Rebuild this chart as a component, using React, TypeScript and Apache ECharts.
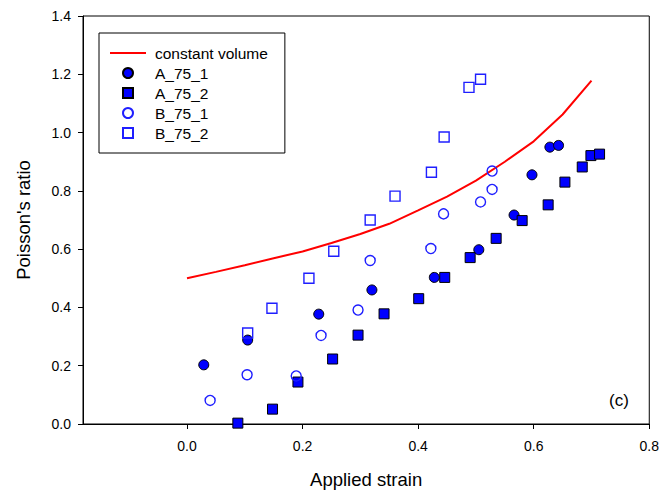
import React, { useEffect, useRef } from "react";
import * as echarts from "echarts";

// Constant volume curve
const cvStrain = [0, 0.05, 0.1, 0.15, 0.2, 0.25, 0.3, 0.35, 0.4, 0.45, 0.5, 0.55, 0.6, 0.65, 0.7];
const cvRatio = [0.5, 0.522, 0.545, 0.569, 0.592, 0.621, 0.652, 0.687, 0.733, 0.78, 0.835, 0.9, 0.97, 1.062, 1.178];

// A_75_1 (filled circles)
const a751Strain = [0.029, 0.105, 0.228, 0.32, 0.428, 0.505, 0.566, 0.597, 0.628, 0.643];
const a751Ratio = [0.203, 0.288, 0.377, 0.46, 0.503, 0.598, 0.717, 0.855, 0.95, 0.956];

// A_75_2 (filled squares)
const a752Strain = [0.088, 0.148, 0.192, 0.252, 0.296, 0.341, 0.401, 0.446, 0.49, 0.535, 0.58, 0.625, 0.654, 0.684, 0.699, 0.714];
const a752Ratio = [0.003, 0.051, 0.144, 0.223, 0.305, 0.378, 0.43, 0.503, 0.571, 0.637, 0.698, 0.752, 0.83, 0.882, 0.921, 0.926];

// B_75_1 (open circles)
const b751Strain = [0.04, 0.104, 0.189, 0.232, 0.296, 0.317, 0.422, 0.444, 0.508, 0.528, 0.528];
const b751Ratio = [0.081, 0.169, 0.165, 0.304, 0.391, 0.561, 0.602, 0.721, 0.762, 0.805, 0.868];

// B_75_2 (open squares)
const b752Strain = [0.105, 0.147, 0.211, 0.254, 0.317, 0.36, 0.423, 0.445, 0.488, 0.508];
const b752Ratio = [0.312, 0.397, 0.5, 0.593, 0.7, 0.782, 0.864, 0.985, 1.155, 1.183];

const xTicks = [0, 0.2, 0.4, 0.6, 0.8];

const zip = (xs: number[], ys: number[]) => xs.map((x, i) => [x, ys[i]]);

const FONT = "'Liberation Sans', Arial, sans-serif";
const SQUARE = "path://M0,0L10,0L10,10L0,10Z";
const LINE_ICON = "path://M0,0L36,0L36,2L0,2Z";

export default function App() {
  const ref = useRef<HTMLDivElement>(null);
  useEffect(() => {
    if (!ref.current) return;
    const chart = echarts.init(ref.current, undefined, { renderer: "svg" });
    const filled = { color: "#0000ff", borderColor: "#000000", borderWidth: 1, opacity: 1 };
    const open = { color: "rgba(255,255,255,0)", borderColor: "#1f1fff", borderWidth: 1.4, opacity: 1 };
    chart.setOption({
      animation: false,
      backgroundColor: "#ffffff",
      textStyle: { fontFamily: FONT },
      grid: {
        left: 83,
        right: 11,
        top: 16,
        bottom: 71,
        show: true,
        borderColor: "#000",
        borderWidth: 1,
        backgroundColor: "transparent",
      },
      legend: {
        orient: "vertical",
        left: 99,
        top: 33,
        itemWidth: 36,
        itemHeight: 10,
        itemGap: 4,
        padding: [12, 17, 12, 11],
        borderColor: "#000",
        borderWidth: 1,
        backgroundColor: "#fff",
        textStyle: { fontFamily: FONT, fontSize: 15.5, color: "#000", padding: [0, 0, 0, 4] },
        data: [
          { name: "constant volume", icon: LINE_ICON, itemStyle: { color: "#ff0000", borderWidth: 0 } },
          { name: "A_75_1", icon: "circle" },
          { name: "A_75_2", icon: SQUARE },
          { name: "B_75_1", icon: "circle" },
          { name: "B_75_2", icon: SQUARE },
        ],
      },
      xAxis: {
        type: "value",
        min: -0.18,
        max: 0.8,
        name: "Applied strain",
        nameLocation: "middle",
        nameGap: 46,
        nameTextStyle: { fontFamily: FONT, fontSize: 18.5, color: "#000" },
        axisLine: { show: true, onZero: false, lineStyle: { color: "#000", width: 1 } },
        axisTick: { show: true, length: 5, lineStyle: { color: "#000" }, customValues: xTicks },
        axisLabel: {
          fontFamily: FONT,
          fontSize: 14,
          color: "#000",
          margin: 15,
          customValues: xTicks,
          formatter: (v: number) => v.toFixed(1),
        },
        splitLine: { show: false },
      },
      yAxis: {
        type: "value",
        min: 0,
        max: 1.4,
        interval: 0.2,
        name: "Poisson's ratio",
        nameLocation: "middle",
        nameGap: 50,
        nameTextStyle: { fontFamily: FONT, fontSize: 18.5, color: "#000" },
        axisLine: { show: true, onZero: false, lineStyle: { color: "#000", width: 1 } },
        axisTick: { show: true, length: 5, lineStyle: { color: "#000" } },
        axisLabel: {
          fontFamily: FONT,
          fontSize: 14,
          color: "#000",
          margin: 12,
          formatter: (v: number) => v.toFixed(1),
        },
        splitLine: { show: false },
      },
      series: [
        {
          name: "constant volume",
          type: "line",
          data: zip(cvStrain, cvRatio),
          symbol: "none",
          smooth: false,
          lineStyle: { color: "#ff0000", width: 2 },
          itemStyle: { color: "#ff0000" },
          z: 2,
        },
        {
          name: "A_75_1",
          type: "scatter",
          symbol: "circle",
          symbolSize: 10,
          data: zip(a751Strain, a751Ratio),
          itemStyle: filled,
          z: 3,
        },
        {
          name: "A_75_2",
          type: "scatter",
          symbol: "rect",
          symbolSize: 10,
          data: zip(a752Strain, a752Ratio),
          itemStyle: filled,
          z: 3,
        },
        {
          name: "B_75_1",
          type: "scatter",
          symbol: "circle",
          symbolSize: 10,
          data: zip(b751Strain, b751Ratio),
          itemStyle: open,
          z: 3,
        },
        {
          name: "B_75_2",
          type: "scatter",
          symbol: "rect",
          symbolSize: 10,
          data: zip(b752Strain, b752Ratio),
          itemStyle: open,
          z: 3,
        },
      ],
      graphic: [
        {
          type: "text",
          left: 609,
          top: 392,
          style: { text: "(c)", fontFamily: FONT, fontSize: 17, fill: "#000" },
        },
      ],
    });
    return () => chart.dispose();
  }, []);
  return (
    <div
      ref={ref}
      style={{ position: "fixed", left: 0, top: 0, width: 662, height: 495, background: "#fff" }}
    />
  );
}
